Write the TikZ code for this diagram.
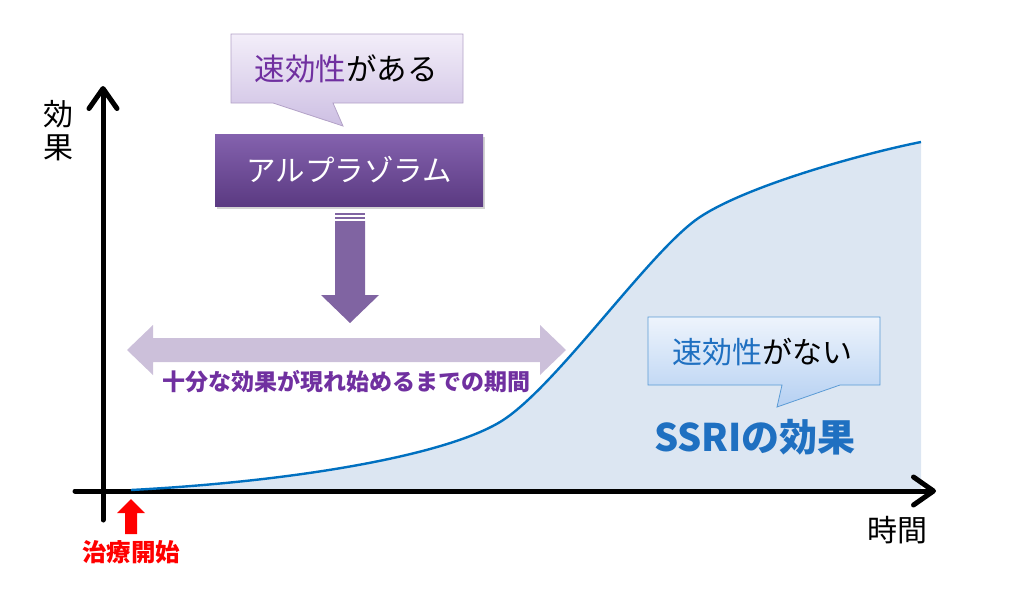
\documentclass[tikz,border=0pt]{standalone}
\usepackage{fontspec}
\setmainfont{Noto Sans CJK JP}
\usetikzlibrary{arrows.meta,shadows}
\definecolor{axisblk}{HTML}{000000}
\definecolor{curveblue}{HTML}{0070C0}
\definecolor{fillblue}{HTML}{DCE6F2}
\definecolor{txtpurple}{HTML}{7030A0}
\definecolor{boxtop}{HTML}{8462AE}
\definecolor{boxbot}{HTML}{5B3A82}
\definecolor{arrpurple}{HTML}{8064A2}
\definecolor{lightpurple}{HTML}{CCC0DA}
\definecolor{calltop}{HTML}{F3EEF9}
\definecolor{callbot}{HTML}{CDBFE3}
\definecolor{callborder}{HTML}{B3A2C7}
\definecolor{bcalltop}{HTML}{EEF4FC}
\definecolor{bcallbot}{HTML}{B5D0F2}
\definecolor{bcallborder}{HTML}{5B9BD5}
\definecolor{ssriblue}{HTML}{1F70C1}
\definecolor{redarrow}{HTML}{FF0000}
\tikzset{
  axisline/.style={line width=5pt, draw=axisblk, line cap=round,
    -{Straight Barb[length=20pt,width=28pt,line cap=round,line join=round]}},
  lbl/.style={inner sep=0pt, anchor=center},
}
\begin{document}
\begin{tikzpicture}[x=1pt,y=-1pt]
\useasboundingbox (0,0) rectangle (1024,605);
% fill under curve
\fill[fillblue] (131,490) .. controls (300,481) and (445,455) .. (500,422)
  .. controls (555,389) and (650,250) .. (700,217)
  .. controls (750,184) and (870,152) .. (921,142) -- (921,491) -- cycle;
% axes
\coordinate (yb) at (103,520);
\coordinate (yt) at (103,86);
\coordinate (xl) at (75,491);
\coordinate (xr) at (936,491);
\draw[axisline] (yb) -- (yt);
\draw[axisline] (xl) -- (xr);
% curve
\draw[curveblue, line width=2.4pt] (131,490) .. controls (300,481) and (445,455) .. (500,422)
  .. controls (555,389) and (650,250) .. (700,217)
  .. controls (750,184) and (870,152) .. (921,142);
% axis labels
\node[lbl, align=center, font=\fontsize{30}{33}\selectfont] (kouka) at (58,131) {効\\果};
\node[lbl, font=\fontsize{30}{33}\selectfont] (jikan) at (897,530) {時間};
% red arrow
\fill[redarrow] (125,534) -- (125,513) -- (117,513) -- (131,499) -- (145,513) -- (137,513) -- (137,534) -- cycle;
\node[lbl, text=redarrow] (start) at (131,552) {\fontsize{24.5}{26}\selectfont\bfseries 治療開始};
% callout purple
\draw[callborder, line width=0.8pt, top color=calltop, bottom color=callbot]
  (231,34) -- (463,34) -- (463,103) -- (333,103) -- (343,126) -- (273,103) -- (231,103) -- cycle;
\node[lbl] (fast) at (346,69) {\fontsize{30.5}{33}\selectfont\textcolor{txtpurple}{速効性}がある};
% purple box
\node[draw=none, top color=boxtop, bottom color=boxbot, minimum width=268pt, minimum height=72pt,
  drop shadow={opacity=0.35, shadow xshift=2pt, shadow yshift=-3pt}, inner sep=0pt] (alp) at (349,170)
  {\fontsize{29.5}{32}\selectfont\color{white}アルプラゾラム};
% down block arrow
\fill[arrpurple] (335,213) rectangle (365,215);
\fill[arrpurple] (335,217) rectangle (365,219);
\fill[arrpurple] (335,221) -- (365,221) -- (365,295) -- (379,295) -- (350,323) -- (321,295) -- (335,295) -- cycle;
% double arrow
\fill[lightpurple] (127,350) -- (153,325) -- (153,338) -- (540,338) -- (540,325) -- (566,350)
  -- (540,375) -- (540,362) -- (153,362) -- (153,375) -- cycle;
\node[lbl, text=txtpurple] (period) at (346,382) {\fontsize{23}{25}\selectfont\bfseries 十分な効果が現れ始めるまでの期間};
% callout blue
\draw[bcallborder, line width=0.8pt, top color=bcalltop, bottom color=bcallbot]
  (648,317) -- (880,317) -- (880,385) -- (840,385) -- (777,407) -- (782,385) -- (648,385) -- cycle;
\node[lbl] (nofast) at (762,352) {\fontsize{30}{33}\selectfont\textcolor{ssriblue}{速効性}がない};
\node[lbl, text=ssriblue] (ssri) at (755,437) {\fontsize{38}{42}\selectfont\bfseries SSRIの効果};
\end{tikzpicture}
\end{document}
